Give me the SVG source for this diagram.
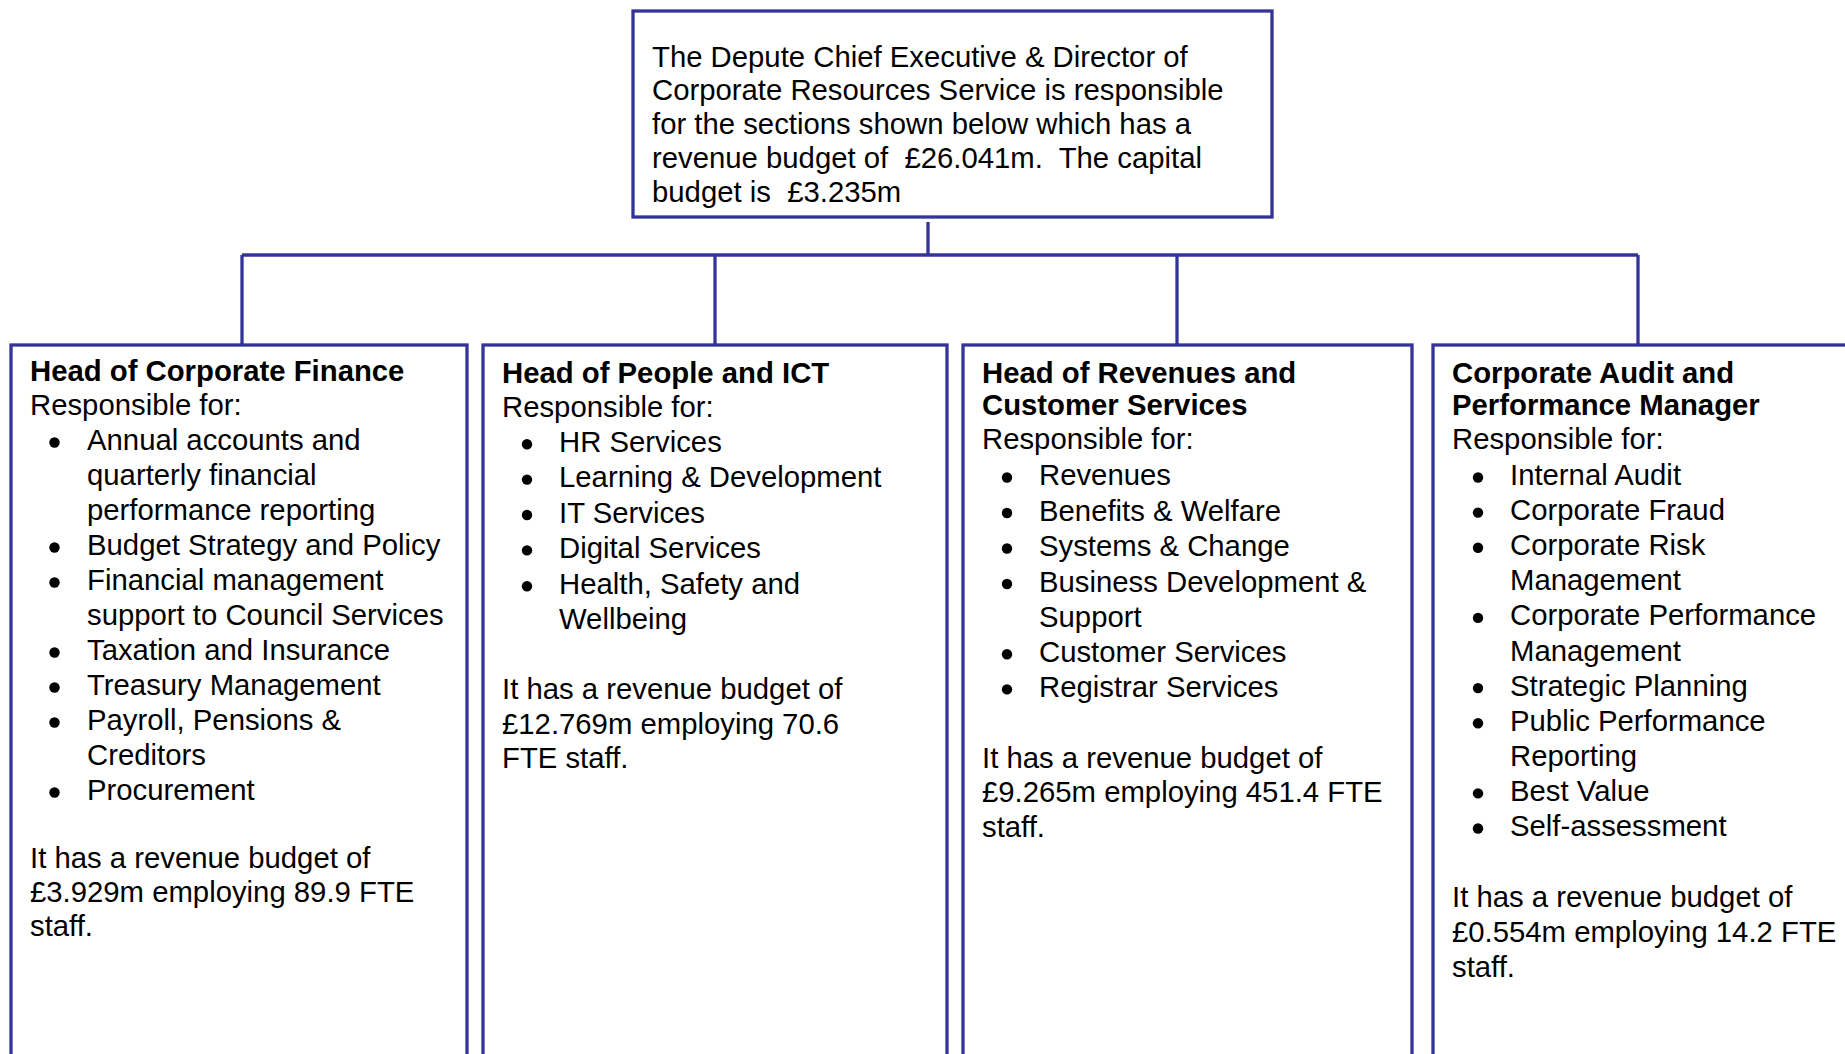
<svg xmlns="http://www.w3.org/2000/svg" width="1845" height="1054" viewBox="0 0 1845 1054">
  <style>
    .box { fill: #ffffff; stroke: #333399; stroke-width: 3.3; }
    .link { fill: none; stroke: #333399; stroke-width: 3.3; }
    .dot { fill: #000000; }
    text { font-family: "Liberation Sans", Arial, sans-serif; font-size: 29.3px; fill: #000000; }
    .hd { font-weight: bold; }
  </style>
  <rect width="1845" height="1054" fill="#ffffff"/>

  <!-- connectors -->
  <g id="connectors">
    <path class="link" d="M928 222 V255"/>
    <path class="link" d="M242 255 H1638"/>
    <path class="link" d="M242 255 V345"/>
    <path class="link" d="M715 255 V345"/>
    <path class="link" d="M1177 255 V345"/>
    <path class="link" d="M1638 255 V345"/>
  </g>

  <!-- director -->
  <g id="director">
    <rect class="box" x="633" y="11" width="639" height="206"/>
    <text x="652" y="66.7">The Depute Chief Executive &amp; Director of</text>
    <text x="652" y="100.4">Corporate Resources Service is responsible</text>
    <text x="652" y="134.1">for the sections shown below which has a</text>
    <text x="652" y="167.8" xml:space="preserve">revenue budget of  £26.041m.  The capital</text>
    <text x="652" y="201.5" xml:space="preserve">budget is  £3.235m</text>
  </g>

  <!-- corporate finance -->
  <g id="corporate-finance">
    <rect class="box" x="11" y="345" width="456" height="740"/>
    <text class="hd" x="30" y="381">Head of Corporate Finance</text>
    <text x="30" y="415">Responsible for:</text>
    <circle class="dot" cx="54.5" cy="442.5" r="5.2"/>
    <text x="87" y="450">Annual accounts and</text>
    <text x="87" y="485">quarterly financial</text>
    <text x="87" y="520">performance reporting</text>
    <circle class="dot" cx="54.5" cy="547.5" r="5.2"/>
    <text x="87" y="555">Budget Strategy and Policy</text>
    <circle class="dot" cx="54.5" cy="582.5" r="5.2"/>
    <text x="87" y="590">Financial management</text>
    <text x="87" y="625">support to Council Services</text>
    <circle class="dot" cx="54.5" cy="652.5" r="5.2"/>
    <text x="87" y="660">Taxation and Insurance</text>
    <circle class="dot" cx="54.5" cy="687.5" r="5.2"/>
    <text x="87" y="695">Treasury Management</text>
    <circle class="dot" cx="54.5" cy="722.5" r="5.2"/>
    <text x="87" y="730">Payroll, Pensions &amp;</text>
    <text x="87" y="765">Creditors</text>
    <circle class="dot" cx="54.5" cy="792.5" r="5.2"/>
    <text x="87" y="800">Procurement</text>
    <text x="30" y="868">It has a revenue budget of</text>
    <text x="30" y="902">£3.929m employing 89.9 FTE</text>
    <text x="30" y="936">staff.</text>
  </g>

  <!-- people and ict -->
  <g id="people-ict">
    <rect class="box" x="483" y="345" width="464" height="740"/>
    <text class="hd" x="502" y="382.7">Head of People and ICT</text>
    <text x="502" y="416.6">Responsible for:</text>
    <circle class="dot" cx="527" cy="444.2" r="5.2"/>
    <text x="559" y="451.7">HR Services</text>
    <circle class="dot" cx="527" cy="479.6" r="5.2"/>
    <text x="559" y="487.1">Learning &amp; Development</text>
    <circle class="dot" cx="527" cy="515" r="5.2"/>
    <text x="559" y="522.5">IT Services</text>
    <circle class="dot" cx="527" cy="550.4" r="5.2"/>
    <text x="559" y="557.9">Digital Services</text>
    <circle class="dot" cx="527" cy="586.3" r="5.2"/>
    <text x="559" y="593.8">Health, Safety and</text>
    <text x="559" y="628.6">Wellbeing</text>
    <text x="502" y="699">It has a revenue budget of</text>
    <text x="502" y="733.5">£12.769m employing 70.6</text>
    <text x="502" y="767.5">FTE staff.</text>
  </g>

  <!-- revenues and customer services -->
  <g id="revenues-customer">
    <rect class="box" x="963" y="345" width="449" height="740"/>
    <text class="hd" x="982" y="382.7">Head of Revenues and</text>
    <text class="hd" x="982" y="415">Customer Services</text>
    <text x="982" y="448.5">Responsible for:</text>
    <circle class="dot" cx="1007" cy="477.5" r="5.2"/>
    <text x="1039" y="485">Revenues</text>
    <circle class="dot" cx="1007" cy="513" r="5.2"/>
    <text x="1039" y="520.5">Benefits &amp; Welfare</text>
    <circle class="dot" cx="1007" cy="548.5" r="5.2"/>
    <text x="1039" y="556">Systems &amp; Change</text>
    <circle class="dot" cx="1007" cy="584" r="5.2"/>
    <text x="1039" y="591.5">Business Development &amp;</text>
    <text x="1039" y="626.5">Support</text>
    <circle class="dot" cx="1007" cy="654.3" r="5.2"/>
    <text x="1039" y="661.8">Customer Services</text>
    <circle class="dot" cx="1007" cy="689.4" r="5.2"/>
    <text x="1039" y="696.9">Registrar Services</text>
    <text x="982" y="768">It has a revenue budget of</text>
    <text x="982" y="802">£9.265m employing 451.4 FTE</text>
    <text x="982" y="836.5">staff.</text>
  </g>

  <!-- audit and performance -->
  <g id="audit-performance">
    <rect class="box" x="1433" y="345" width="440" height="740"/>
    <text class="hd" x="1452" y="382.7">Corporate Audit and</text>
    <text class="hd" x="1452" y="415">Performance Manager</text>
    <text x="1452" y="448.5">Responsible for:</text>
    <circle class="dot" cx="1478" cy="477.5" r="5.2"/>
    <text x="1510" y="485">Internal Audit</text>
    <circle class="dot" cx="1478" cy="512.6" r="5.2"/>
    <text x="1510" y="520.1">Corporate Fraud</text>
    <circle class="dot" cx="1478" cy="547.7" r="5.2"/>
    <text x="1510" y="555.2">Corporate Risk</text>
    <text x="1510" y="590.3">Management</text>
    <circle class="dot" cx="1478" cy="617.9" r="5.2"/>
    <text x="1510" y="625.4">Corporate Performance</text>
    <text x="1510" y="660.5">Management</text>
    <circle class="dot" cx="1478" cy="688.1" r="5.2"/>
    <text x="1510" y="695.6">Strategic Planning</text>
    <circle class="dot" cx="1478" cy="723.2" r="5.2"/>
    <text x="1510" y="730.7">Public Performance</text>
    <text x="1510" y="765.8">Reporting</text>
    <circle class="dot" cx="1478" cy="793.4" r="5.2"/>
    <text x="1510" y="800.9">Best Value</text>
    <circle class="dot" cx="1478" cy="828.5" r="5.2"/>
    <text x="1510" y="836">Self-assessment</text>
    <text x="1452" y="907">It has a revenue budget of</text>
    <text x="1452" y="941.8">£0.554m employing 14.2 FTE</text>
    <text x="1452" y="976.6">staff.</text>
  </g>
</svg>
